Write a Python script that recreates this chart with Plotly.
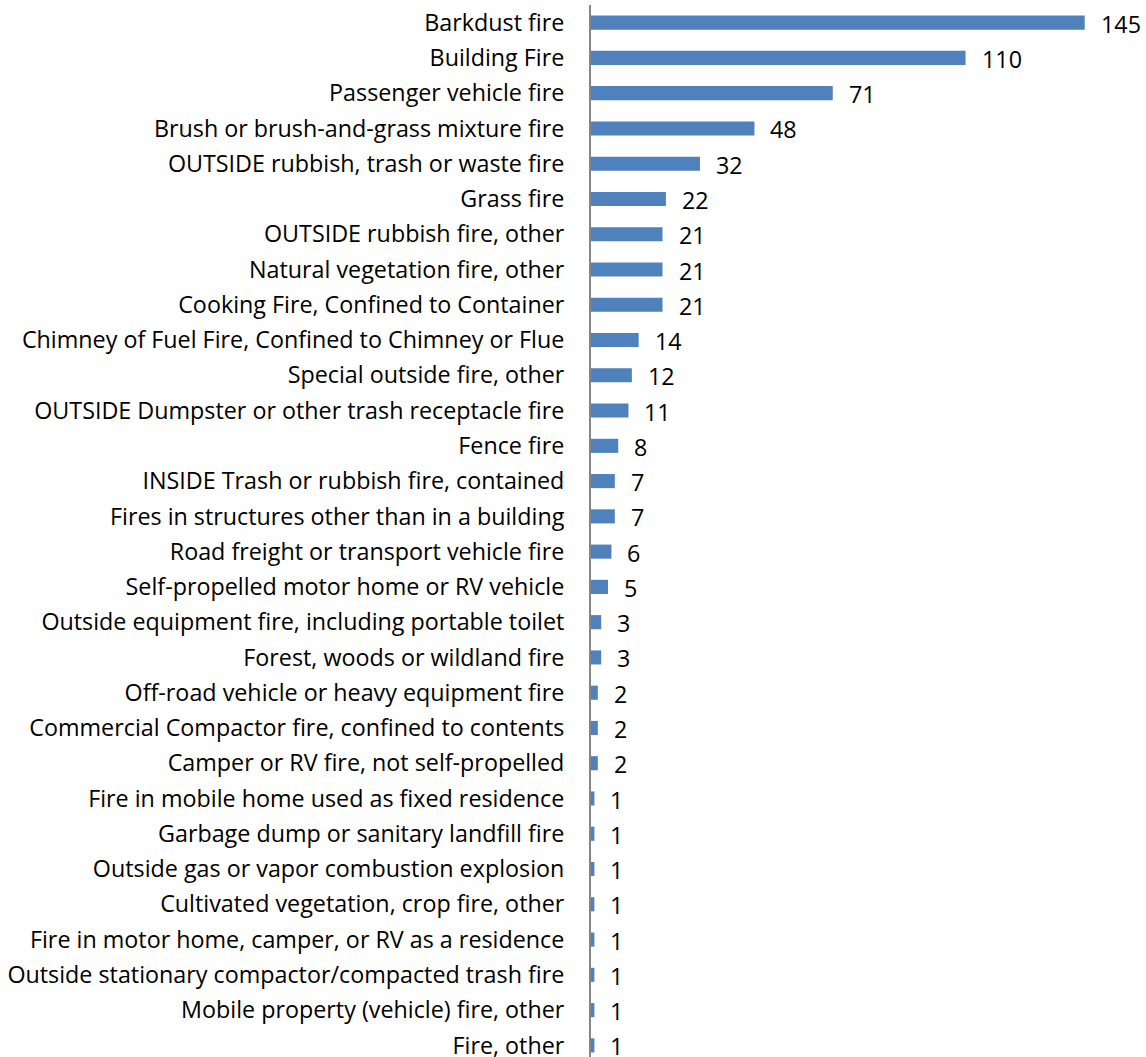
import plotly.graph_objects as go

categories = [
    "Barkdust fire",
    "Building Fire",
    "Passenger vehicle fire",
    "Brush or brush-and-grass mixture fire",
    "OUTSIDE rubbish, trash or waste fire",
    "Grass fire",
    "OUTSIDE rubbish fire, other",
    "Natural vegetation fire, other",
    "Cooking Fire, Confined to Container",
    "Chimney of Fuel Fire, Confined to Chimney or Flue",
    "Special outside fire, other",
    "OUTSIDE Dumpster or other trash receptacle fire",
    "Fence fire",
    "INSIDE Trash or rubbish fire, contained",
    "Fires in structures other than in a building",
    "Road freight or transport vehicle fire",
    "Self-propelled motor home or RV vehicle",
    "Outside equipment fire, including portable toilet",
    "Forest, woods or wildland fire",
    "Off-road vehicle or heavy equipment fire",
    "Commercial Compactor fire, confined to contents",
    "Camper or RV fire, not self-propelled",
    "Fire in mobile home used as fixed residence",
    "Garbage dump or sanitary landfill fire",
    "Outside gas or vapor combustion explosion",
    "Cultivated vegetation, crop fire, other",
    "Fire in motor home, camper, or RV as a residence",
    "Outside stationary compactor/compacted trash fire",
    "Mobile property (vehicle) fire, other",
    "Fire, other",
]
counts = [145, 110, 71, 48, 32, 22, 21, 21, 21, 14, 12, 11, 8, 7, 7, 6, 5, 3, 3,
          2, 2, 2, 1, 1, 1, 1, 1, 1, 1, 1]

FONT = "Open Sans"
SIZE = 23.3

fig = go.Figure(
    go.Bar(
        x=counts,
        y=list(range(len(categories))),
        orientation="h",
        marker=dict(color="#4F81BD", line=dict(width=0)),
        width=0.4,
        hoverinfo="skip",
    )
)

# value labels to the right of each bar
for i, v in enumerate(counts):
    fig.add_annotation(
        x=v, y=i, text=str(v), showarrow=False,
        xanchor="left", yanchor="middle", xshift=14, yshift=-1,
        font=dict(family=FONT, size=SIZE, color="#000000"),
    )

fig.update_layout(
    width=1146,
    height=1057,
    margin=dict(l=591, r=0, t=5, b=0, autoexpand=False),
    paper_bgcolor="white",
    plot_bgcolor="white",
    showlegend=False,
    font=dict(family=FONT, size=SIZE, color="#000000"),
    xaxis=dict(
        range=[0, 163],
        visible=False,
        showgrid=False,
        zeroline=False,
        automargin=False,
    ),
    yaxis=dict(
        range=[29.33, -0.5],
        tickmode="array",
        tickvals=list(range(len(categories))),
        ticktext=categories,
        showgrid=False,
        zeroline=False,
        showline=True,
        linecolor="#868686",
        linewidth=2,
        ticks="",
        ticklabelstandoff=20,
        ticklabeloverflow="allow",
        automargin=False,
        tickfont=dict(family=FONT, size=SIZE, color="#000000"),
    ),
)

fig.write_html("out.html")
